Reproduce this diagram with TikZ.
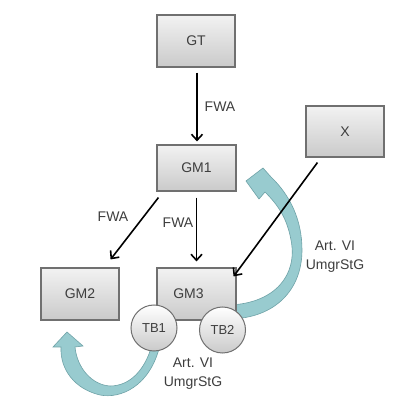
\documentclass[tikz,border=0pt]{standalone}
\usepackage{fontspec}
\setmainfont{Liberation Sans}
\usetikzlibrary{arrows.meta,shadows}
\definecolor{boxtop}{RGB}{242,242,242}
\definecolor{boxbot}{RGB}{202,202,202}
\definecolor{boxline}{RGB}{112,112,112}
\definecolor{txt}{RGB}{62,62,62}
\definecolor{bandfill}{RGB}{152,203,207}
\definecolor{bandline}{RGB}{110,162,167}
\begin{document}
\begin{tikzpicture}[x=1pt,y=-1pt,
  box/.style={draw=boxline,line width=1.1pt,top color=boxtop,bottom color=boxbot,
    minimum width=78pt,minimum height=51pt,inner sep=0pt,
    font=\fontsize{14}{16}\selectfont,text=txt,
    drop shadow={opacity=0.25,shadow xshift=1.2pt,shadow yshift=-1.2pt}},
  tb/.style={circle,draw=boxline,line width=1pt,top color=white,bottom color=boxbot,
    minimum size=46pt,inner sep=0pt,font=\fontsize{13}{15}\selectfont,text=txt},
  lab/.style={font=\fontsize{14}{19}\selectfont,text=txt,align=center,inner sep=0pt},
  conn/.style={-{Straight Barb[length=6pt,width=11pt]},line width=1.6pt,black},
  band/.style={fill=bandfill,draw=bandline,line width=0.6pt}
]
\useasboundingbox[fill=white] (0,0) rectangle (415,411);

% broad curved arrows (behind the boxes)
\path[band] (230,305) .. controls (275,303) and (298,275) .. (291,240)
  .. controls (287,218) and (278,205) .. (265,192)
  -- (259,199) -- (246,181) -- (263,168) -- (271,177)
  .. controls (290,195) and (302,220) .. (302,250)
  .. controls (302,290) and (275,318) .. (230,319) -- cycle;
\path[band] (160,345) .. controls (150,387) and (120,399) .. (100,395)
  .. controls (75,389) and (60,370) .. (61,347)
  -- (53,347) -- (67,332) -- (83,346) -- (75,347)
  .. controls (77,368) and (92,385) .. (110,386)
  .. controls (130,386) and (145,370) .. (152,345) -- cycle;

% boxes
\node[box,minimum height=52pt] (gt) at (196,41) {GT};
\node[box,minimum width=79pt,minimum height=46pt] (gm1) at (196.5,168) {GM1};
\node[box] (x) at (345,131.5) {X};
\node[box,minimum height=52pt] (gm2) at (80,294) {GM2};
\node[box,minimum width=79pt,minimum height=52pt] (gm3) at (196.5,294) {\hspace*{-8pt}GM3\hspace*{8pt}};
\node[tb] (tb1) at (154,328) {TB1};
\node[tb] (tb2) at (222.5,330) {TB2};

% connectors
\draw[conn] ([xshift=1pt,yshift=-5pt]gt.south) -- ([xshift=0.5pt,yshift=3pt]gm1.north);
\draw[conn] ([yshift=-6pt]gm1.south) -- ([yshift=6pt]gm3.north);
\draw[conn] ([xshift=2pt,yshift=-6pt]gm1.south west) -- ([xshift=-9pt,yshift=8pt]gm2.north east);
\draw[conn] ([xshift=12pt,yshift=-5pt]x.south west) -- ([xshift=-3pt,yshift=-9pt]gm3.north east);

% labels
\node[lab] (l1) at (220,107) {FWA};
\node[lab] (l2) at (113,217) {FWA};
\node[lab] (l3) at (178,223) {FWA};
\node[lab] (l4) at (335,257) {Art. VI\\UmgrStG};
\node[lab] (l5) at (193,374) {Art. VI\\UmgrStG};
\end{tikzpicture}
\end{document}
